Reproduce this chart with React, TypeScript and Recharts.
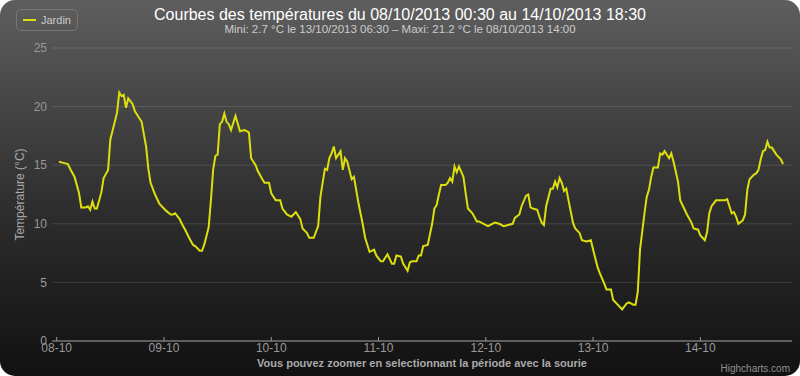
import { CartesianGrid, Label, Line, LineChart, XAxis, YAxis } from "recharts"

// hours since 08/10/2013 00:00
const hours = [
  0.5, 1.5, 2.5, 3, 4, 5, 5.5, 6.5, 7, 7.5,
  8, 8.5, 9, 10, 10.5, 11.5, 12, 13, 13.5, 14,
  14.5, 15, 15.5, 16, 17, 17.5, 18.5, 19, 20, 20.5,
  21, 22, 23, 24.5, 25.5, 26, 26.5, 27.5, 28, 29,
  29.5, 30.5, 31, 32, 32.5, 33, 34, 34.5, 35, 35.5,
  36, 36.5, 37, 37.5, 38, 38.5, 39, 40, 41, 42,
  43, 43.5, 44.5, 45, 46, 46.5, 47.5, 48, 49, 50,
  50.5, 51.5, 52.5, 53.5, 54.5, 55, 56, 56.5, 57.5, 58.5,
  59, 60, 60.5, 61, 61.5, 62, 62.5, 63.5, 64, 64.5,
  65, 66, 66.5, 67.5, 68.5, 69, 70, 71, 71.5, 72.5,
  73, 74, 75, 75.5, 76, 77, 77.5, 78.5, 79, 79.5,
  80.5, 81, 81.5, 82, 83, 84, 84.5, 85, 85.5, 86,
  87, 87.5, 88, 88.5, 89, 89.5, 90, 91, 91.5, 92,
  93, 94, 94.5, 95.5, 96.5, 98, 99, 100, 101, 102,
  102.5, 103.5, 104, 105, 105.5, 106, 106.5, 107.5, 108, 108.5,
  109, 109.5, 110.5, 111, 111.5, 112, 112.5, 113, 113.5, 114,
  114.5, 115.5, 116, 117, 117.5, 118.5, 119.5, 120, 121, 121.5,
  122.5, 123, 124, 124.5, 125.5, 126.5, 127.5, 128, 129, 129.5,
  130, 130.5, 131.5, 132, 132.5, 133, 133.5, 134.5, 135, 135.5,
  136, 137, 137.5, 138, 139, 139.5, 140.5, 141, 142, 142.5,
  143.5, 144, 145, 145.5, 146, 146.5, 147.5, 148.5, 149.5, 150,
  150.5, 151, 151.5, 152, 152.5, 153.5, 154, 154.5, 155, 156,
  156.5, 157, 157.5, 158, 158.5, 159, 159.5, 160, 160.5, 161,
  162, 162.5,
]

const jardin = [
  15.3, 15.2, 15.1, 14.7, 14.0, 12.6, 11.4, 11.4, 11.5, 11.2,
  11.9, 11.3, 11.3, 12.7, 13.9, 14.6, 17.2, 18.7, 19.5, 21.2,
  20.9, 21.0, 19.9, 20.7, 20.2, 19.6, 19.0, 18.7, 16.6, 14.7,
  13.5, 12.5, 11.7, 11.1, 10.8, 10.8, 10.9, 10.4, 10.0, 9.3,
  8.9, 8.2, 8.1, 7.7, 7.7, 8.2, 9.7, 12.0, 14.6, 15.8,
  15.9, 18.5, 18.7, 19.4, 18.7, 18.5, 18.0, 19.2, 17.9, 18.0,
  17.8, 15.6, 15.0, 14.5, 13.8, 13.5, 13.5, 12.6, 12.0, 12.0,
  11.3, 10.8, 10.6, 11.0, 10.4, 9.6, 9.2, 8.8, 8.8, 9.8,
  12.3, 14.7, 14.6, 15.6, 16.0, 16.6, 15.6, 16.2, 14.6, 15.6,
  15.3, 13.8, 14.0, 11.8, 9.9, 8.8, 7.6, 7.8, 7.3, 6.8,
  6.8, 7.4, 6.6, 6.6, 7.3, 7.2, 6.6, 6.0, 6.7, 6.8,
  6.8, 7.3, 7.3, 8.1, 8.2, 10.0, 11.3, 11.6, 12.5, 13.3,
  13.3, 13.5, 13.9, 13.6, 14.9, 14.4, 14.9, 14.0, 12.6, 11.3,
  10.9, 10.2, 10.2, 10.0, 9.8, 10.1, 10.0, 9.8, 9.9, 10.0,
  10.5, 10.8, 11.5, 12.4, 12.5, 11.4, 11.3, 11.2, 10.6, 10.1,
  9.9, 11.5, 13.0, 13.0, 13.6, 13.1, 13.9, 13.5, 12.8, 13.0,
  12.0, 10.1, 9.6, 9.2, 8.6, 8.5, 8.6, 7.8, 6.3, 5.8,
  4.9, 4.4, 4.4, 3.5, 3.1, 2.7, 3.2, 3.3, 3.1, 3.1,
  4.2, 7.8, 10.9, 12.3, 12.9, 14.0, 14.8, 14.8, 16.0, 15.9,
  16.2, 15.6, 16.0, 15.3, 13.6, 12.0, 11.2, 10.8, 10.1, 9.6,
  9.5, 9.0, 8.6, 9.3, 10.9, 11.5, 12.0, 12.0, 12.0, 12.1,
  11.5, 10.9, 11.0, 10.6, 10.0, 10.3, 10.8, 12.9, 13.8, 14.2,
  14.3, 14.6, 15.5, 16.2, 16.3, 17.0, 16.5, 16.5, 16.2, 15.9,
  15.5, 15.1,
]

const dayTicks = [0, 24, 48, 72, 96, 120, 144]
const dayLabels = ["08-10", "09-10", "10-10", "11-10", "12-10", "13-10", "14-10"]
const tempTicks = [0, 5, 10, 15, 20, 25]

const data = hours.map((h, i) => ({ h, jardin: jardin[i] }))

const font = "'Liberation Sans', Arial, sans-serif"

function DayTick({ x, y, payload }: any) {
  const label = dayLabels[dayTicks.indexOf(payload.value)]
  return (
    <g>
      <line x1={x} x2={x} y1={y - 2} y2={y - 6} stroke="#999" />
      <text x={x} y={y} dy="0.75em" textAnchor="middle" fill="#999" fontSize={12} fontFamily={font}>
        {label}
      </text>
    </g>
  )
}

function LegendBox() {
  return (
    <div
      style={{
        position: "absolute",
        left: 16,
        top: 9,
        display: "flex",
        alignItems: "center",
        height: 20,
        padding: "0 6px",
        border: "1px solid #777",
        borderRadius: 5,
        fontFamily: font,
        fontSize: 11,
        color: "#ccc",
      }}
    >
      <span style={{ display: "inline-block", width: 13, height: 2, background: "#DDDF0D", marginRight: 5 }} />
      Jardin
    </div>
  )
}

export default function App() {
  return (
    <div style={{ position: "absolute", left: 0, top: 0, width: 800, height: 376, background: "#fff" }}>
      <div
        style={{
          position: "absolute",
          inset: 0,
          borderRadius: 15,
          background: "linear-gradient(to bottom, #5e5e5e 0%, #2e2e2e 55%, #111 100%)",
        }}
      />
      <div
        style={{
          position: "absolute",
          top: 6,
          width: 800,
          textAlign: "center",
          color: "#fff",
          fontFamily: font,
          fontSize: 16,
        }}
      >
        Courbes des températures du 08/10/2013 00:30 au 14/10/2013 18:30
      </div>
      <div
        style={{
          position: "absolute",
          top: 23,
          width: 800,
          textAlign: "center",
          color: "#ccc",
          fontFamily: font,
          fontSize: 11.5,
        }}
      >
        Mini: 2.7 °C le 13/10/2013 06:30 – Maxi: 21.2 °C le 08/10/2013 14:00
      </div>
      <LegendBox />
      <LineChart
        width={800}
        height={376}
        data={data}
        margin={{ top: 48, right: 8, bottom: 5, left: 0 }}
        style={{ position: "absolute", left: 0, top: 0 }}
      >
        <CartesianGrid horizontal vertical={false} stroke="rgba(255,255,255,0.12)" />
        <XAxis
          dataKey="h"
          type="number"
          domain={[-1.05, 164.5]}
          ticks={dayTicks}
          tick={<DayTick />}
          tickSize={0}
          tickMargin={2}
          height={30}
          stroke="#999"
          allowDataOverflow
        >
          <Label
            value="Vous pouvez zoomer en selectionnant la période avec la sourie"
            position="insideBottom"
            offset={4}
            fill="#aaa"
            fontSize={11}
            fontWeight="bold"
            fontFamily={font}
          />
        </XAxis>
        <YAxis
          domain={[0, 25]}
          ticks={tempTicks}
          width={52}
          axisLine={false}
          tickSize={0}
          tickMargin={5}
          tick={{ fill: "#999", fontSize: 12, fontFamily: font }}
        >
          <Label
            value="Température (°C)"
            angle={-90}
            position="center"
            dx={-6}
            fill="#aaa"
            fontSize={12}
            fontFamily={font}
          />
        </YAxis>
        <Line
          type="linear"
          dataKey="jardin"
          name="Jardin"
          stroke="#DDDF0D"
          strokeWidth={2}
          dot={false}
          isAnimationActive={false}
        />
      </LineChart>
      <div
        style={{
          position: "absolute",
          right: 10,
          bottom: 2,
          color: "#909090",
          fontFamily: font,
          fontSize: 10,
        }}
      >
        Highcharts.com
      </div>
    </div>
  )
}
